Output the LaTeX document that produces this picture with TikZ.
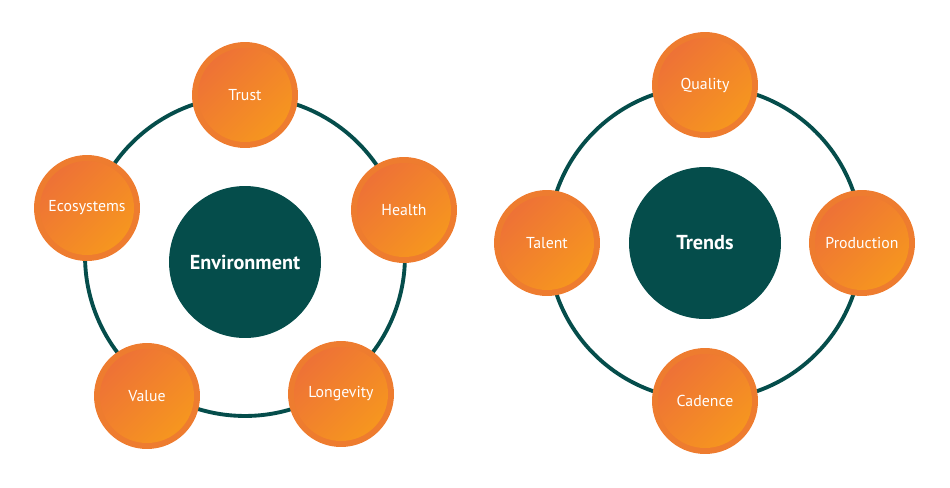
\documentclass[tikz,border=0pt]{standalone}
\usepackage{fontspec}
\setmainfont{PT Sans}
\definecolor{teal}{HTML}{054D4B}
\definecolor{orring}{HTML}{EE7C2F}
\definecolor{orlight}{HTML}{F6961F}
\definecolor{ordark}{HTML}{EE7236}
\tikzset{
  topic/.style={circle, minimum size=2.12cm, inner sep=0pt, fill=orring, text=white, font=\fontsize{9}{10}\selectfont},
  hub/.style={circle, minimum size=3.04cm, inner sep=0pt, fill=teal, text=white, font=\bfseries\fontsize{11.5}{13}\selectfont},
  ring/.style={draw=teal, line width=2.2pt}
}
\newcommand{\topicshade}[1]{%
  \shade[bottom color=orlight, top color=ordark, shading angle=45] (#1) circle (0.94cm);}

\begin{document}
\begin{tikzpicture}[x=0.02cm, y=-0.02cm]
\useasboundingbox (0,0) rectangle (950,487);

% left cycle
\draw[ring] (245,256) circle (3.2cm);
\node[hub] (env) at (245,262) {};
\foreach \name/\lbl/\px/\py in {trust/Trust/245/95, health/Health/404/210, longevity/Longevity/341/394,
                                value/Value/147/396, eco/Ecosystems/87/208} {
  \node[topic] (\name) at (\px,\py) {};
  \topicshade{\name}
  \node[text=white, font=\fontsize{9}{10}\selectfont] at (\name) {\lbl};
}
\node[text=white, font=\bfseries\fontsize{11.5}{13}\selectfont] at (env) {Environment};

% right cycle
\draw[ring] (705,243) circle (3.14cm);
\node[hub] (trends) at (705,243) {};
\foreach \name/\lbl/\px/\py in {quality/Quality/705/85, production/Production/862/243,
                                cadence/Cadence/705/401, talent/Talent/547/243} {
  \node[topic] (\name) at (\px,\py) {};
  \topicshade{\name}
  \node[text=white, font=\fontsize{9}{10}\selectfont] at (\name) {\lbl};
}
\node[text=white, font=\bfseries\fontsize{11.5}{13}\selectfont] at (trends) {Trends};
\end{tikzpicture}
\end{document}
